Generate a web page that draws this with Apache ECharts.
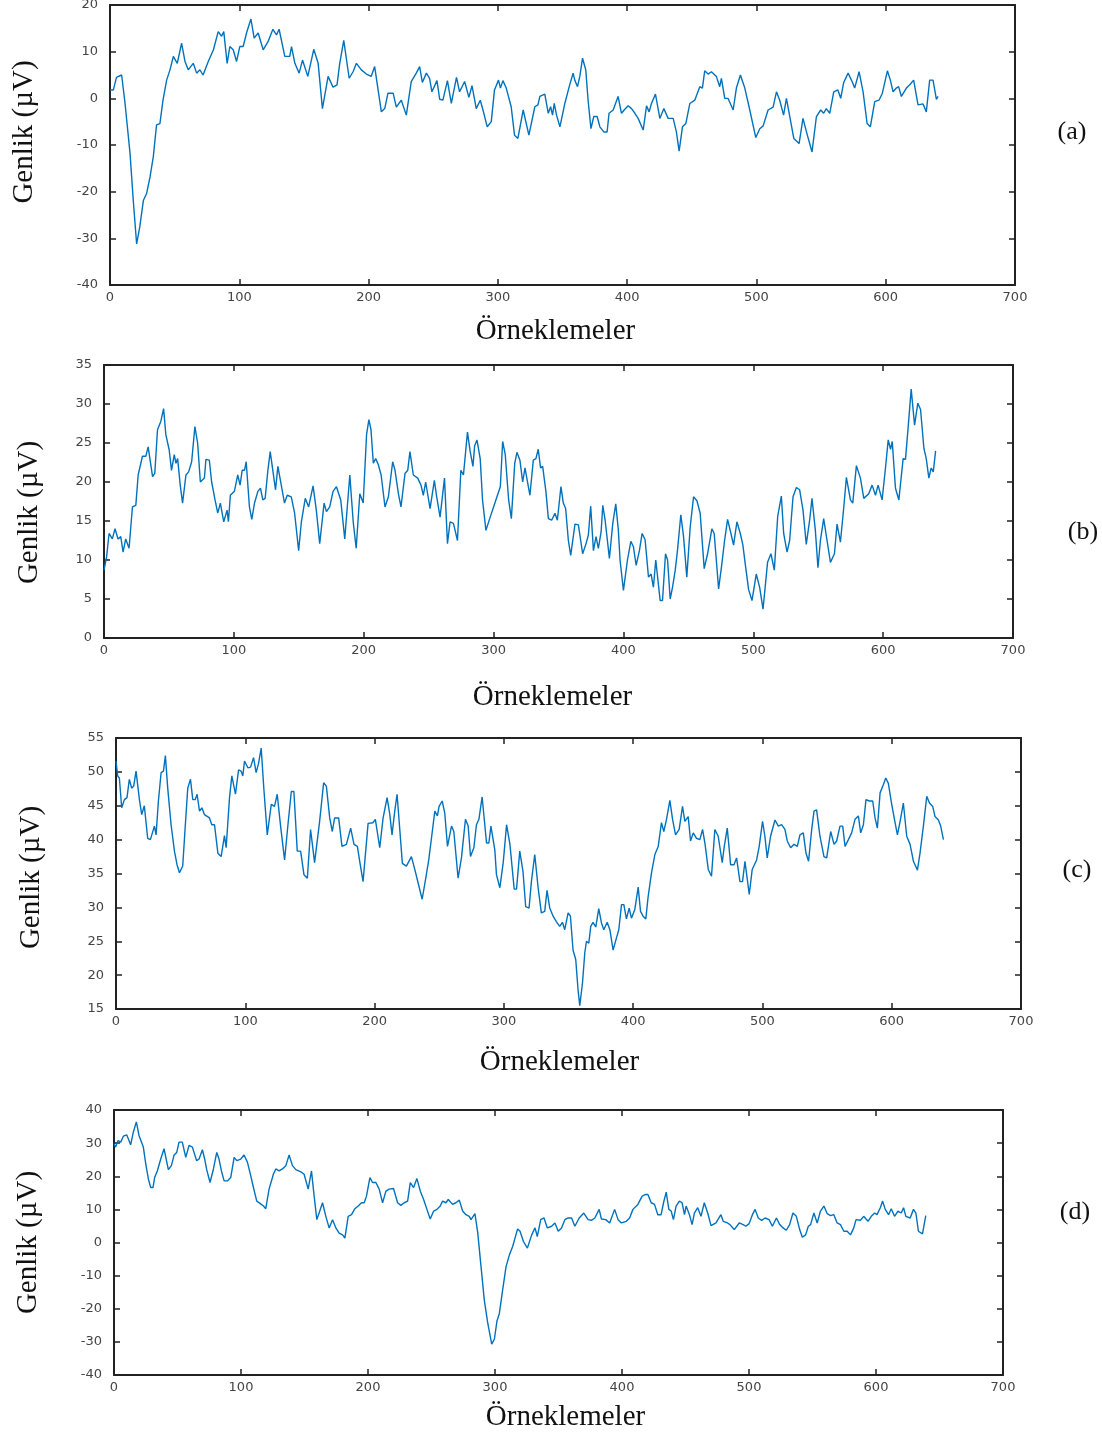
<!DOCTYPE html>
<html>
<head>
<meta charset="utf-8">
<title>Genlik - Örneklemeler</title>
<script src="https://cdn.jsdelivr.net/npm/echarts@6/dist/echarts.min.js"></script>
<style>
  html, body { margin: 0; padding: 0; background: #ffffff; }
  #chart { width: 1102px; height: 1434px; }
</style>
</head>
<body>
<div id="chart"></div>
<script>
// sample index / amplitude pairs
var seriesA = [[0,1.8],[2.6,1.8],[5,4.5],[9,5],[11.6,-1],[15.5,-11.8],[18,-21.9],[20.6,-31.2],[23,-27.6],[25.8,-21.9],[28.3,-20.4],[31,-16.8],[33.5,-12.5],[36,-5.7],[38.6,-5.4],[41,-0.4],[43.8,3.9],[46.4,6.1],[49,9],[52,7.5],[55.4,11.8],[58,7.9],[60.5,6.1],[64.4,7.5],[67,5.4],[69.5,6.1],[72,5],[76,7.9],[80,10.4],[83.7,14.3],[86.3,13.3],[88,14.3],[90.6,7.5],[92.7,11.1],[95.3,10.4],[97.9,7.9],[100.4,11.1],[103,11.1],[105.6,14],[109,17],[111.5,12.9],[114.6,14],[118.5,10.4],[122.3,12.2],[126,14.8],[128.8,13.6],[130.8,14.8],[135.2,9],[139,9],[140.4,11.1],[143,7.5],[146.3,5.4],[148.9,8.2],[153,4.7],[157.6,10.5],[161,7.5],[164.3,-2.2],[168.7,4.7],[172.5,2.4],[175.6,2.9],[177.7,7.5],[180.8,12.4],[185,4.3],[188,5.7],[190.6,7.5],[194.4,6.1],[198.3,5.2],[202,4.7],[204.7,6.8],[209.9,-2.9],[212.5,-2.2],[215,1.1],[219,1.1],[221.5,-1.9],[225.3,-0.4],[229.2,-3.6],[233,3.6],[236.9,5.4],[239.5,6.8],[241.6,3.4],[244.7,5.4],[247.2,4.3],[249,1.4],[252.9,3.8],[255,-0.2],[257.5,-0.4],[261,3.8],[264,-1.1],[268,4.5],[270.4,1.4],[274.3,3.6],[277.6,0.2],[280,2.7],[283.3,-2.2],[286.4,-0.4],[288.5,-2.5],[291.8,-6.1],[294.9,-5],[297.4,1.8],[300.5,3.9],[302,2.2],[303.9,3.8],[306.5,2.2],[310.3,-1.8],[312.9,-7.9],[315.5,-8.6],[319.6,-2.5],[321,-2.2],[324,-7.9],[328.6,-1.8],[331,-1.4],[332.5,0.4],[336.3,0.9],[339,-3.2],[340.8,-1.8],[342.3,-3.6],[343.6,-1.1],[345.4,-3.6],[348,-6.1],[351.8,-1.1],[355.2,2.5],[358.2,5.4],[359.5,3.9],[361.6,2.5],[363.4,4.7],[365.5,8.6],[368,6.1],[369.8,-0.4],[372,-6.5],[374.2,-3.9],[376.8,-3.9],[378.9,-6.1],[381.9,-7.2],[384.5,-7.2],[386,-3.2],[389.2,-2.5],[393,0.4],[395.6,-3.2],[397.7,-2.5],[400.8,-1.6],[403.4,-2.2],[406,-3.2],[408.5,-4.3],[412.4,-6.8],[415,-1.6],[417,-2.9],[418.8,-1.1],[421.9,0.9],[425.3,-4.3],[428.4,-2.2],[431.7,-4.3],[435.6,-4.3],[438.1,-7.2],[440.2,-11.3],[442.8,-6.1],[445.4,-5.4],[448.5,-1.1],[452.3,-0.4],[456.2,2.5],[458.2,2.2],[460,5.9],[462.6,5.2],[465.2,5.7],[469,4.7],[471.6,2.5],[472.9,4.3],[475.5,0],[478,0],[482,-2.5],[484.5,2.2],[487.6,5],[491,2.2],[494.3,-1.8],[499.5,-8.4],[502.6,-6.5],[505.2,-5.9],[509,-2.5],[512.9,-1.9],[515.5,1.4],[518,-0.4],[521,-3.6],[523.2,0],[525.8,-3.9],[528.9,-8.6],[533,-9.7],[536,-4.3],[538.7,-7.2],[543,-11.5],[546.4,-3.9],[549.7,-2.5],[552,-3.2],[554,-2.2],[556.7,-3.2],[559.8,1.4],[563,1.8],[565.2,0],[567.5,3.4],[570.9,5.4],[574,3.6],[576,2.2],[579.4,5.7],[582.5,1.4],[585.6,-5.4],[588.1,-6.1],[591.5,-0.7],[594.8,-0.4],[597.4,1.1],[601.3,5.9],[603.6,3.9],[605.7,1.4],[608.2,2.2],[610,2.5],[612.1,0.4],[616,2.2],[618.6,2.9],[621.6,3.9],[625,-1.4],[628.9,-1.2],[631.4,-2.9],[634,3.9],[636.6,3.9],[639.2,-0.2],[640.5,0.4]];

var seriesB = [[0,8.7],[2,10.4],[3.9,13.4],[6.4,12.7],[8.5,14],[10.8,12.7],[12.9,13],[14.7,11],[16.7,12.7],[19.3,11.5],[21.9,16.8],[24.5,17],[26.3,20.9],[27.8,20.7],[29.6,23.3],[32.2,23.3],[34,24.5],[37.4,20.7],[39.1,21.1],[41.2,26.7],[43.8,27.8],[45.9,29.4],[47.6,26.1],[50.2,24.1],[52,21.5],[54.1,23.5],[55.4,22.4],[56.7,23],[58.7,19.6],[60.5,17.3],[63.1,20.9],[65.2,21.3],[67.5,22.6],[70,27.1],[72.1,25],[74.2,20],[77.3,20.5],[78.5,22.9],[81.1,22.8],[82.9,20],[85.5,17.7],[87.6,16],[89.6,17.3],[92.2,14.9],[94.8,16.4],[95.8,14.9],[97.3,18.3],[100.4,18.8],[103,20.9],[104.8,19.6],[106.4,21.5],[108.2,21.5],[109.5,22.6],[112,16.8],[113.8,15.2],[115.9,17.3],[118.5,18.8],[120.5,19.2],[122.3,17.7],[124.1,17.9],[126.2,21.5],[128,23.9],[130,21.5],[132.1,19],[133.9,22],[136.5,19.6],[139,17.3],[141.1,18.3],[144.2,18.1],[146.8,16],[149.9,11.2],[152,14.9],[155,17.9],[157.6,16.8],[161,19.5],[163.5,16.4],[166.1,12.1],[169.5,17.3],[171.3,16.2],[173.8,16.8],[176.4,18.8],[179,19.4],[182.3,17.7],[185.4,12.7],[189.3,20.9],[191.9,14.9],[194.2,11.5],[197,18.5],[199.6,17.3],[202.2,26.1],[204,28],[205.6,26.7],[207.4,22.4],[209.2,23],[211.3,22.2],[213.4,20.9],[216.4,16.8],[219,18.1],[222.3,22.6],[224.1,21.5],[226.7,18.5],[228.7,16.8],[231.8,21.1],[233.9,21.5],[235.6,23.9],[238.2,20.9],[241.6,20.5],[244.1,19.6],[245.9,18.3],[247.7,20],[251.1,16.6],[254.4,20.2],[256.2,18.1],[258.8,15.5],[262.2,20.5],[264.5,12.1],[266.5,14.9],[269.1,14.7],[272.2,12.5],[274.8,21.5],[276.8,20.9],[279.9,26.4],[282,23.9],[284.1,22],[285.4,24.6],[287.2,25.4],[289.7,23],[291.5,17.7],[294.1,13.8],[297.4,15.5],[300,16.8],[302.6,18.1],[305.2,19.4],[307,25.2],[309,23.5],[311.6,17.7],[313.7,15.3],[316.3,22.4],[318,23.8],[320.3,22.8],[322.4,20],[324.2,21.8],[328,18.3],[330.6,22.8],[332.6,23],[334.4,24.2],[336.2,21.8],[337.8,22],[340.3,18.8],[342.2,15.3],[344.7,15.1],[347.3,16],[349.1,15.1],[351.9,19.4],[353.7,17.3],[355.5,16.6],[357.6,12.5],[359.4,10.6],[362.7,14.6],[365.3,14.5],[368.6,10.8],[371.2,12.1],[373,13.2],[374.8,16.9],[376.9,11.2],[378.9,13],[380.7,11.5],[382.8,13.6],[384.1,17],[385.9,15.1],[389.2,10.2],[391.8,14.7],[394.1,17.2],[396.1,13.8],[397.4,10],[400,6.1],[403.1,10],[405.7,12.4],[407.7,11.7],[409.8,9.3],[412.3,11.2],[414.4,13.4],[416.7,12.6],[419.3,7.8],[421.3,8.2],[423.1,6.5],[424.9,10],[428.3,4.8],[430.1,4.8],[432.4,10.8],[434,10],[436,5],[437.8,6.5],[439.9,8.7],[441.6,11.2],[444.2,15.8],[446.3,13],[448.8,7.8],[451.4,14.2],[454,18.1],[456.6,17.6],[459.1,16],[462.2,8.9],[464.8,10.8],[468.1,14],[469.9,13.4],[473.3,6.3],[475.8,9.5],[477.9,12.5],[480.2,15.2],[482.8,13.4],[484.8,11.9],[487.4,14.9],[490,13.4],[492,11.9],[493.8,9.5],[496.4,6.2],[499,4.8],[502.3,8.2],[504.9,6.5],[507.5,3.7],[511,9.7],[513.6,10.8],[516.2,8.7],[518.8,15.6],[521.6,18.2],[523.4,13.4],[526,11],[528,12.5],[530.6,18.1],[533.2,19.3],[535.7,19],[538.3,16.4],[540.8,12],[543.4,15.1],[545.2,17.9],[547.8,13.8],[549.8,9],[551.7,12.5],[554.2,15.3],[556.8,12.5],[559.4,9.7],[562.5,10.8],[564.5,14.6],[567.1,12.3],[569.7,16.8],[571.7,20.6],[574.8,17.7],[576.6,17.3],[579.4,22.1],[582.5,20.5],[585.1,17.9],[588.9,18.5],[591.5,19.6],[594.1,18.3],[596.1,19.6],[599.2,17.7],[601.8,21.8],[603.9,25.4],[605.7,24.2],[607,25.2],[609.5,19.2],[612.1,17.7],[615.4,23],[617.2,22.9],[619.3,27.1],[621.6,31.9],[624.2,27.3],[626.7,30.1],[628.8,29.3],[631.4,24.3],[633.2,23],[635.2,20.5],[637,21.8],[638.6,21.3],[640.4,24]];

var seriesC = [[0,51.6],[1.3,49.4],[2.6,49.1],[4.4,44.7],[6.5,45.9],[8.5,46.2],[10.3,48.9],[12.1,47.6],[13.7,47.9],[15.5,50.1],[18.1,45.9],[19.9,43.7],[21.9,45],[24.5,40.2],[26.6,40],[29.7,42],[31,40.7],[32.8,45.7],[34.9,49.9],[36.7,50.1],[38.2,52.4],[40,47.6],[42.6,42.2],[45.2,38.3],[47.2,36.3],[49.1,35.1],[51.6,36.1],[53.4,41.5],[55.5,47.6],[57.6,48.9],[59.4,45.9],[61.2,45.9],[62.7,46.7],[64.6,44.2],[66.4,44.7],[68.4,43.7],[72.3,43.2],[74.1,42.2],[76.2,42.2],[78.8,38],[81.3,37.5],[83.9,40.6],[85.2,38.8],[87.8,46.2],[89.6,49.4],[92.4,46.7],[94.8,50.3],[96.8,50.1],[98.1,49.4],[99.4,51.6],[102,50.6],[104.1,50.7],[106.4,52.1],[108.4,49.9],[110.3,51.3],[112.3,53.5],[114.4,47.4],[117,40.7],[120.1,45.2],[122.6,44.9],[124.7,46.7],[127.3,42],[130.4,37],[133,42.2],[135.6,47.1],[137.6,47.1],[140.2,38.3],[142.8,38.3],[145.4,34.8],[148,34.3],[150.5,41.5],[153.6,36.6],[157.5,42.7],[160.6,48.4],[162.7,47.9],[165.3,43.2],[167.3,41.2],[169.1,43.2],[172.2,43.2],[174.8,39],[178.2,39.3],[181.5,41.7],[184.1,39.3],[186.7,39],[188.5,36.8],[191.1,33.8],[195,42.4],[198.8,42.5],[200.6,43],[204,38.8],[206.6,43.2],[209.7,46.2],[211.8,43.7],[213.5,40.7],[215.6,44.2],[217.4,46.7],[219.5,41.5],[221.5,36.5],[224.6,36.1],[228.5,37.5],[231.1,35.6],[233.7,33.6],[236.8,31.2],[239.4,34.1],[241.9,37],[244,40.2],[246.6,44.2],[248.6,43.5],[249.9,44.9],[252.3,45.7],[254.3,43.9],[256.4,39],[257.4,39],[259.5,42],[261.3,41.2],[264.6,34.3],[267.2,37.3],[270.3,43],[272.4,42],[274.2,37.5],[276.8,38.8],[278.8,42.2],[280.7,43],[283.2,46.3],[286.6,39.5],[288.4,39.5],[290,42],[293,38.5],[294.3,34.8],[296.9,32.9],[299.5,36.6],[302.1,42.2],[304.7,39.3],[308,32.7],[309.8,32.7],[312.3,38.3],[314.8,35.3],[316.9,30.1],[319.5,29.9],[321.3,33.8],[323.9,37.8],[326.5,32.9],[329,29.2],[331.6,29.4],[333.4,32.5],[335.5,29.9],[338.1,28.7],[340.6,27.9],[343.2,27.2],[345.3,27.8],[347.1,26.7],[349.7,29.2],[351.5,28.7],[353.5,23.7],[355.6,22.3],[357.4,17.8],[358.7,15.5],[360.8,18.8],[362.6,23.3],[363.9,25],[365.7,24.7],[367.2,27.2],[369,27.8],[371.1,27.1],[373.4,29.8],[375.5,27.7],[377.3,26.7],[379.9,27.8],[382,26.7],[384.5,23.7],[387.1,25.5],[388.9,26.7],[391,30.4],[392.8,30.4],[394.8,28.3],[396.9,29.9],[398.7,28.4],[401.3,29.7],[403.9,33],[405.7,29.4],[407.7,28.7],[409.8,28.3],[411.6,31.6],[414.2,35.1],[416.8,37.8],[419.4,39],[421.9,42.5],[423.7,41.2],[425.8,43],[428.4,45.8],[430.5,43],[432.8,40.7],[435.6,41.5],[438.2,44.9],[440,42.7],[442.6,43.4],[444.4,39.8],[446.5,41],[449,40.2],[451.6,40],[453.7,41.5],[455.5,39.5],[458.1,35.6],[460.6,34.6],[463.2,41.5],[465.8,40.5],[468.9,36.6],[470.5,39],[472.8,41.7],[475.4,36.3],[478,36.3],[480,37.3],[482.6,33.8],[484.6,33.8],[486.5,36.8],[487.7,36.6],[489.8,31.9],[492.1,35.6],[495.5,37],[497.5,39],[500.1,42.7],[501.9,40.5],[503.7,37.3],[506.3,40.5],[509.7,42.9],[512.3,42],[514.8,42.2],[517.4,41.5],[519.2,39.8],[521.8,38.8],[524.4,39.3],[527,39],[529,40.7],[531.6,41],[533.7,38],[535.7,36.8],[538.1,41.5],[539.9,44.2],[541.9,44.4],[544.5,40.5],[547.6,37.5],[549.7,37.3],[552.8,41.2],[555.4,39.3],[557.4,39.8],[560,42],[562.1,42],[563.9,39],[566.5,40],[569,41],[571.6,43],[574.2,43.5],[576,41],[578.1,42.2],[580.1,45.9],[582.7,45.7],[585.3,45.7],[587.1,43.2],[588.9,41.7],[591,46.9],[593.5,48.1],[595.4,49.1],[597.4,48.3],[600,45.2],[602.6,42.5],[604.4,40.7],[606.5,42.7],[609,45.4],[611.6,40.5],[614.2,39.3],[616.8,36.8],[619.9,35.5],[621.9,38],[624.5,42],[627.1,46.4],[629.2,45.4],[631.7,44.9],[633.5,43.4],[636.1,42.9],[637.9,42],[640,40]];

var seriesD = [[0,29.8],[1.3,28.8],[3.2,30.8],[5.3,30.3],[7.4,32.1],[10,32.5],[13.1,29.5],[15.2,33.3],[17.6,36.4],[19.7,32.3],[23.1,28.8],[25,23.7],[27.1,19.1],[28.9,16.6],[30.7,16.6],[32,19.6],[34.1,21.6],[35.5,22.2],[36.8,25.2],[39.4,28.3],[40.7,28.3],[42.8,22],[45.2,23.2],[47.3,26.4],[49.4,27.2],[51.2,30.3],[53.8,30.3],[56.5,25.7],[59.1,29.3],[61.7,28.8],[65.1,24.7],[67,25.2],[69.6,28],[71.4,25.2],[73,22],[75.6,18.1],[78.3,22.2],[80.9,27.2],[82.7,25.2],[84.6,21.6],[86.7,18.6],[89.3,18.6],[91.9,19.6],[94.6,25.7],[96.7,24.7],[99.8,25.2],[102.4,26.4],[105.1,24.2],[107.7,20.1],[109.8,16.6],[112.4,12.5],[115,11.8],[117.7,11],[119.5,10.2],[122.1,16.1],[123.5,16.6],[125.5,20.6],[127.4,22.2],[130,21.6],[132.6,22.2],[135.3,23.2],[137.9,26.4],[140.5,23.2],[143.2,22],[147.1,21.3],[149.7,20.6],[152.9,16.1],[155.5,21.6],[157.6,14],[159.7,6.9],[161.5,8.9],[164.2,12],[166.8,7.9],[169.4,4.4],[172.1,6.9],[174.7,4.4],[177.3,2.8],[180,2.3],[181.8,1.3],[184.4,7.9],[187,8.4],[189.7,10.2],[192.3,11],[194.9,12],[197,12],[198.8,14],[201.5,19.6],[203.6,18.1],[206.2,18.1],[208.8,16.1],[211.5,12],[214.1,15.5],[216.7,16.1],[220.1,16.3],[223.3,12],[225.9,11.2],[228.5,12],[231.2,12.5],[233.3,18.1],[235.9,16.6],[238.5,19.3],[241.2,15.5],[243.8,13],[246.4,10],[249,7.1],[251.7,9.5],[254.3,10],[256.9,11],[258.7,12.5],[261.4,12],[263.2,13],[266.6,11.5],[269.2,12],[271.9,12.8],[274.5,9.5],[277.1,8.4],[279.7,7.9],[281.1,6.9],[284.2,8.7],[286.4,3],[289,-7.3],[291.6,-17.5],[294.2,-24.1],[297.4,-30.7],[299.5,-29.2],[301.6,-23.6],[303.4,-21.5],[306,-14.4],[308.7,-7.3],[311.3,-3.8],[313.9,-1.2],[317.8,4.1],[319.7,3.4],[322.4,0.3],[325.5,-1.7],[328.9,2.3],[331.5,4.4],[333.3,1.8],[336,6.9],[338.6,7.4],[341.2,4.4],[344.6,4.9],[347.2,5.9],[349.8,3.4],[352.4,4.4],[355,6.9],[357.6,7.4],[360.3,7.4],[362.9,4.9],[366.3,7.4],[369.9,8.9],[373.3,6.9],[375.9,6.7],[378.6,7.4],[382,10],[383.8,7.1],[387.2,6.9],[390.3,5.9],[394.2,10],[396.9,6.9],[399.5,5.9],[403.4,6.4],[406,7.4],[408.6,10],[412.5,11.5],[415.9,14],[418.6,14.5],[420.4,14.5],[423,12],[425.6,11.5],[428.2,8.4],[430.8,8.4],[432.7,12],[434.8,15.2],[436.9,10],[438.7,9.5],[440.5,6.9],[442.6,11],[445.2,12.5],[447.3,12],[449.2,8.4],[450.5,11],[453.1,8.4],[455.2,5.4],[457,8.9],[459.6,10.5],[462.2,7.9],[464.8,12],[467.5,8.9],[470.1,5.1],[474,5.9],[477.9,8.4],[479.7,6.4],[483.1,5.9],[485,5.4],[488.4,3.9],[492.3,5.9],[495.4,5.4],[497.5,4.9],[500.1,5.7],[502.7,8.4],[504.8,10],[507.3,7.4],[510,6.7],[512.7,7.4],[515.8,6.9],[518.4,4.9],[521.6,7.4],[524.2,5.4],[526.8,4.4],[529.4,3.7],[532,5.4],[534.6,8.9],[537.3,7.9],[539.9,3.9],[542,1.6],[544.6,2.3],[546.7,4.9],[548.5,5.4],[551.1,8.9],[553.7,5.9],[556.3,9.5],[559,11],[561.6,8.7],[564.2,8.1],[566.8,8.4],[569.4,5.9],[572,5.4],[574.7,3.4],[577.3,3.4],[579.9,2.3],[582.5,4.4],[584.3,6.9],[587.7,6.7],[590.3,7.9],[593.7,6.4],[596.3,7.9],[598.9,8.9],[600.8,8.4],[603.4,10.5],[605.2,12.5],[607.3,10],[609.9,8.4],[612,10.2],[614.6,7.9],[617.3,9.5],[619.9,8.9],[621.7,10.5],[623.5,7.9],[626.9,7.4],[629.5,10],[631.4,8.9],[633.4,3.4],[636.6,2.6],[639.2,8.1]];

// axis ranges: [min, max, step]
var xRange = [0, 700, 100];
var yRangeA = [-40, 20, 10];
var yRangeB = [0, 35, 5];
var yRangeC = [15, 55, 5];
var yRangeD = [-40, 40, 10];

var panelTags = ['(a)', '(b)', '(c)', '(d)'];
var xTitle = 'Örneklemeler';
var yTitle = 'Genlik (µV)';

// layout of each panel on the page (xPad / yPad nudge the axis titles)
var panels = [
  { data: seriesA, yr: yRangeA, box: { left: 110, top: 5, width: 905, height: 280 }, yGap: 71, xGap: 32, xPad: [0, 14, 0, 0], yPad: [0, 0, 0, 26], tag: [1072, 132] },
  { data: seriesB, yr: yRangeB, box: { left: 104, top: 365, width: 909, height: 273 }, yGap: 60, xGap: 45, xPad: [0, 12, 0, 0], yPad: [0, 22, 0, 0], tag: [1083, 532] },
  { data: seriesC, yr: yRangeC, box: { left: 116, top: 738, width: 905, height: 271 }, yGap: 70, xGap: 39, xPad: [0, 18, 0, 0], yPad: [0, 8, 0, 0], tag: [1077, 870] },
  { data: seriesD, yr: yRangeD, box: { left: 114, top: 1110, width: 889, height: 265 }, yGap: 71, xGap: 28, xPad: [0, 0, 0, 14], yPad: [0, 0, 0, 0], tag: [1075, 1212] }
];

var chart = echarts.init(document.getElementById('chart'));

var axisColor = '#222';
var lineColor = '#0072BD';
var tickFont = { fontFamily: 'DejaVu Sans', fontSize: 13, color: '#444' };

var grids = [], xAxes = [], yAxes = [], series = [], graphics = [];

function titleFont(pad) {
  return { fontFamily: 'Liberation Serif', fontSize: 29, color: '#111', padding: pad };
}

function frameAxis(extra) {
  var base = {
    type: 'value',
    axisLine: { show: true, onZero: false, lineStyle: { color: axisColor, width: 2 } },
    axisTick: { show: true, inside: true, length: 6, lineStyle: { color: axisColor, width: 1.5 } },
    axisLabel: { show: false },
    splitLine: { show: false }
  };
  return Object.assign(base, extra);
}

panels.forEach(function (p, i) {
  grids.push(Object.assign({ containLabel: false, outerBoundsMode: 'none' }, p.box));

  // bottom x axis with labels and title, plain top axis to close the box
  xAxes.push(frameAxis({
    gridIndex: i, position: 'bottom', min: xRange[0], max: xRange[1], interval: xRange[2],
    axisLabel: Object.assign({ show: true, margin: 6 }, tickFont),
    name: xTitle, nameLocation: 'middle', nameGap: p.xGap, nameTextStyle: titleFont(p.xPad)
  }));
  xAxes.push(frameAxis({
    gridIndex: i, position: 'top', min: xRange[0], max: xRange[1], interval: xRange[2]
  }));

  yAxes.push(frameAxis({
    gridIndex: i, position: 'left', min: p.yr[0], max: p.yr[1], interval: p.yr[2],
    axisLabel: Object.assign({ show: true, margin: 12 }, tickFont),
    name: yTitle, nameLocation: 'middle', nameGap: p.yGap, nameTextStyle: titleFont(p.yPad)
  }));
  yAxes.push(frameAxis({
    gridIndex: i, position: 'right', min: p.yr[0], max: p.yr[1], interval: p.yr[2]
  }));

  series.push({
    type: 'line',
    xAxisIndex: 2 * i,
    yAxisIndex: 2 * i,
    data: p.data,
    showSymbol: false,
    smooth: false,
    lineStyle: { color: lineColor, width: 1.4 },
    itemStyle: { color: lineColor },
    silent: true
  });

  graphics.push({
    type: 'text',
    x: p.tag[0],
    y: p.tag[1],
    style: {
      text: panelTags[i],
      fontFamily: 'Liberation Serif',
      fontSize: 26,
      fill: '#111',
      align: 'center',
      verticalAlign: 'middle'
    }
  });
});

chart.setOption({
  animation: false,
  backgroundColor: '#ffffff',
  grid: grids,
  xAxis: xAxes,
  yAxis: yAxes,
  series: series,
  graphic: graphics
});
</script>
</body>
</html>
